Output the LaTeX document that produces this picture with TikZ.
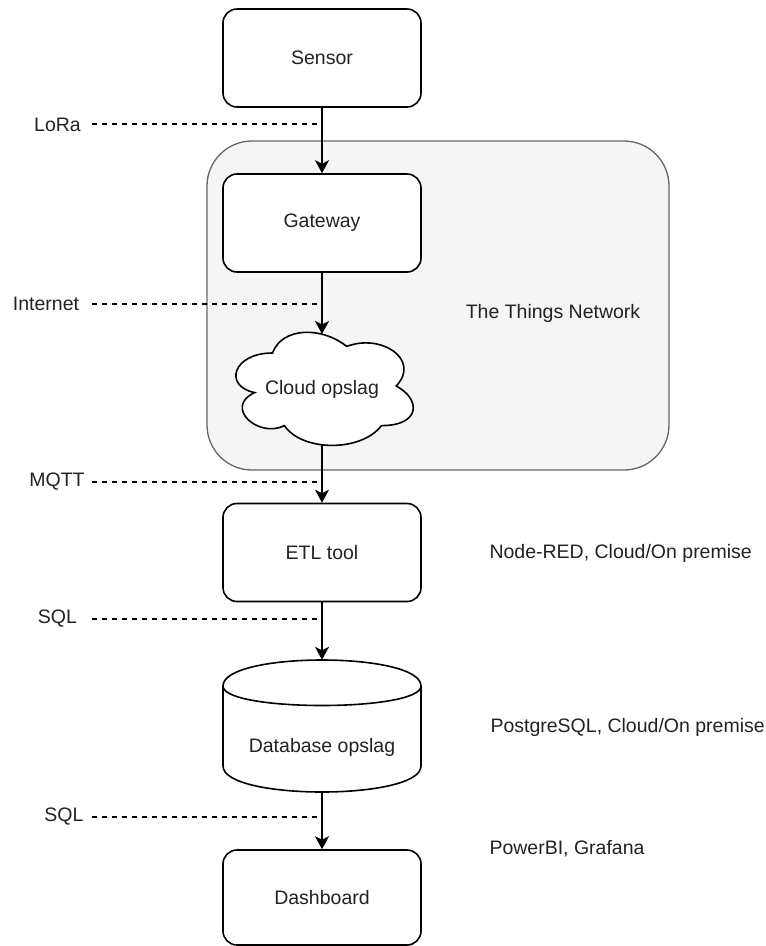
\documentclass[tikz,border=0pt]{standalone}
\usepackage{fontspec}
\setmainfont{Liberation Sans}
\usetikzlibrary{arrows.meta}
\definecolor{ttnfill}{HTML}{F5F5F5}
\definecolor{ttnline}{HTML}{666666}
\definecolor{labeltext}{HTML}{222222}
\tikzset{
  blok/.style={draw, rounded corners=14pt, line width=1.6pt, minimum width=198pt, minimum height=98pt, fill=white},
  flow/.style={line width=1.6pt, -{Stealth[length=13pt,width=14pt,inset=3.5pt]}},
  proto/.style={line width=1.2pt, dash pattern=on 5pt off 5pt},
  lijn/.style={line width=1.6pt},
}
\begin{document}
\begin{tikzpicture}[x=1pt, y=-1pt, font=\fontsize{19.5}{23}\selectfont, text=labeltext]
\useasboundingbox (0,0) rectangle (766,946);

\node[draw=ttnline, fill=ttnfill, line width=1.3pt, rounded corners=45pt,
      minimum width=462pt, minimum height=329pt] (ttn) at (438,305.5) {};
\node (ttnlabel) at (553,313) {The Things Network};

\begin{scope}[every node/.style={blok}]
  \node (sensor)    at (322,58)    {Sensor};
  \node (gateway)   at (322,223)   {Gateway};
  \node (etl)       at (322,552.5) {ETL tool};
  \node[minimum height=95pt] (dashboard) at (322,897.5) {Dashboard};
\end{scope}

\begin{scope}[shift={(223,320)}, x=198pt, y=-132pt]
  \draw[lijn, fill=white] (0.25,0.25) .. controls (0.05,0.25) and (0,0.5) .. (0.16,0.55)
    .. controls (0,0.66) and (0.18,0.9) .. (0.31,0.8)
    .. controls (0.4,1) and (0.7,1) .. (0.8,0.8)
    .. controls (1,0.8) and (1,0.6) .. (0.875,0.5)
    .. controls (1,0.3) and (0.8,0.1) .. (0.625,0.2)
    .. controls (0.5,0.05) and (0.3,0.05) .. (0.25,0.25) -- cycle;
\end{scope}
\node[minimum width=180pt, minimum height=110.6pt, inner sep=0pt] (cloud) at (322,389.5) {Cloud opslag};

\begin{scope}[shift={(223,660)}]
  \draw[lijn, fill=white] (0,26) .. controls (0,-8.67) and (198,-8.67) .. (198,26)
    -- (198,106) .. controls (198,140.67) and (0,140.67) .. (0,106) -- cycle;
  \draw[lijn] (0,26) .. controls (0,52) and (198,52) .. (198,26);
\end{scope}
\node[minimum width=198pt, minimum height=132pt, inner sep=0pt,
      label={[yshift=-21pt]center:Database opslag}] (db) at (322,726) {};

\draw[flow] (sensor) -- (gateway);
\draw[flow] (gateway) -- (cloud);
\draw[flow] (cloud) -- (etl);
\draw[flow] (etl) -- (db);
\draw[flow] (db) -- (dashboard);

\node (lora)     at (57.5,125) {LoRa};
\node (internet) at (46,304)   {Internet};
\node (mqtt)     at (57,482)   {MQTT};
\node (sqlA)     at (57.5,619) {SQL};
\node (sqlB)     at (64,817)   {SQL};

\coordinate (dLora)     at (92,124);
\coordinate (dInternet) at (92,304);
\coordinate (dMqtt)     at (92,482);
\coordinate (dSqlA)     at (92,619);
\coordinate (dSqlB)     at (92,817);
\draw[proto] (dLora) -- (dLora -| sensor);
\draw[proto] (dInternet) -- (dInternet -| sensor);
\draw[proto] (dMqtt) -- (dMqtt -| sensor);
\draw[proto] (dSqlA) -- (dSqlA -| sensor);
\draw[proto] (dSqlB) -- (dSqlB -| sensor);

\node[anchor=west] (nodered)  at (486,553) {Node-RED, Cloud/On premise};
\node[anchor=west] (postgres) at (487,727) {PostgreSQL, Cloud/On premise};
\node[anchor=west] (powerbi)  at (486,849) {PowerBI, Grafana};

\end{tikzpicture}
\end{document}
